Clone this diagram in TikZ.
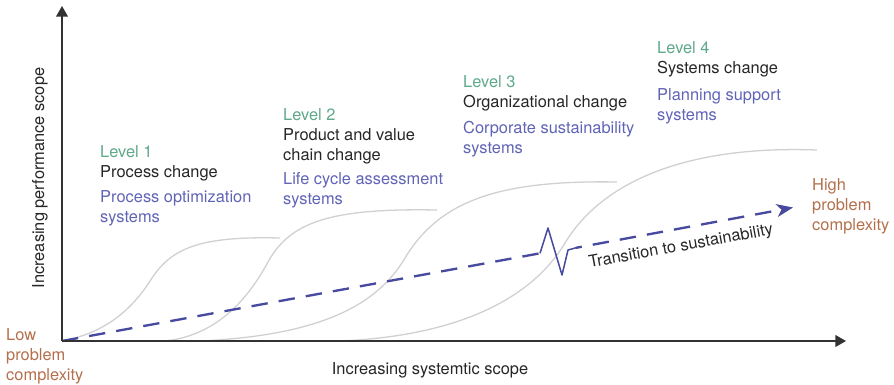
\documentclass[tikz,border=0pt]{standalone}
\usepackage{fontspec}
\setmainfont{TeX Gyre Heros}
\usepackage{xcolor}
\usetikzlibrary{arrows.meta}

\definecolor{lvlgreen}{RGB}{95,168,138}
\definecolor{sysblue}{RGB}{96,100,182}
\definecolor{dashblue}{RGB}{72,74,160}
\definecolor{cplxbrown}{RGB}{180,112,76}
\definecolor{curvegray}{RGB}{208,208,208}
\definecolor{axisgray}{RGB}{50,50,50}

\begin{document}
\begin{tikzpicture}[x=0.03cm,y=-0.03cm,
    txt/.style={font=\fontsize{14}{17}\selectfont, inner sep=0pt, align=left, anchor=base west},
    lvl/.style={txt, text=lvlgreen},
    chg/.style={txt, text=black!85},
    sys/.style={txt, text=sysblue},
    cplx/.style={txt, text=cplxbrown},
    scurve/.style={curvegray, line width=1.1pt},
    axis/.style={axisgray, line width=1.2pt, -{Triangle[length=9pt,width=10pt]}},
    trend/.style={dashblue, line width=2pt, dash pattern=on 14pt off 9.5pt}]
    \useasboundingbox (0,0) rectangle (894,384);

    % S-curves
    \draw[scurve] (62,341) .. controls (110,332) and (135,305) .. (152,278)
        .. controls (172,248) and (200,236) .. (280,238);
    \draw[scurve] (165,341) .. controls (220,335) and (250,295) .. (268,262)
        .. controls (290,222) and (330,208) .. (437,210);
    \draw[scurve] (200,341) .. controls (330,335) and (380,300) .. (405,258)
        .. controls (440,200) and (500,180) .. (617,182);
    \draw[scurve] (340,341) .. controls (480,335) and (540,285) .. (565,243)
        .. controls (600,185) and (680,145) .. (817,150);

    % axes
    \coordinate (O) at (62,341);
    \coordinate (ytop) at (62,6);
    \coordinate (xend) at (846,341);

    % transition path with break
    \coordinate (brkA) at (540,253.3);
    \coordinate (brkB) at (576,247.8);
    \coordinate (high) at (793,207.5);
    \draw[trend] (O) -- (brkA);
    \draw[dashblue, line width=1.3pt, line join=round] (brkA) -- (548,228) -- (562,275) -- (568,250) -- (brkB);
    \draw[trend, dash phase=9pt, -{Stealth[length=14pt,width=11pt,inset=4pt]}] (brkB) -- (high);
    \node[chg, anchor=center, rotate=10.3] (trans) at (681,247) {Transition to sustainability};

    \draw[axis] (O) -- (ytop);
    \draw[axis] (O) -- (xend);
    \node[chg, anchor=base] (xlab) at (430,374) {Increasing systemtic scope};
    \node[chg, anchor=base, rotate=90] (ylab) at (44,178) {Increasing performance scope};

    % complexity ends (base = last line)
    \node[cplx] (lo) at (6,380) {Low\\problem\\complexity};
    \node[cplx] (hi) at (812,230) {High\\problem\\complexity};

    % Level 1
    \node[lvl] (lv1) at (100,157) {Level 1};
    \node[chg] (ch1) at (100,177) {Process change};
    \node[sys] (sy1) at (100,222) {Process optimization\\systems};

    % Level 2
    \node[lvl] (lv2) at (283,120) {Level 2};
    \node[chg] (ch2) at (283,160) {Product and value\\chain change};
    \node[sys] (sy2) at (283,204) {Life cycle assessment\\systems};

    % Level 3
    \node[lvl] (lv3) at (463,87) {Level 3};
    \node[chg] (ch3) at (463,107) {Organizational change};
    \node[sys] (sy3) at (463,153) {Corporate sustainability\\systems};

    % Level 4
    \node[lvl] (lv4) at (657,53) {Level 4};
    \node[chg] (ch4) at (657,73) {Systems change};
    \node[sys] (sy4) at (657,120) {Planning support\\systems};
\end{tikzpicture}
\end{document}
